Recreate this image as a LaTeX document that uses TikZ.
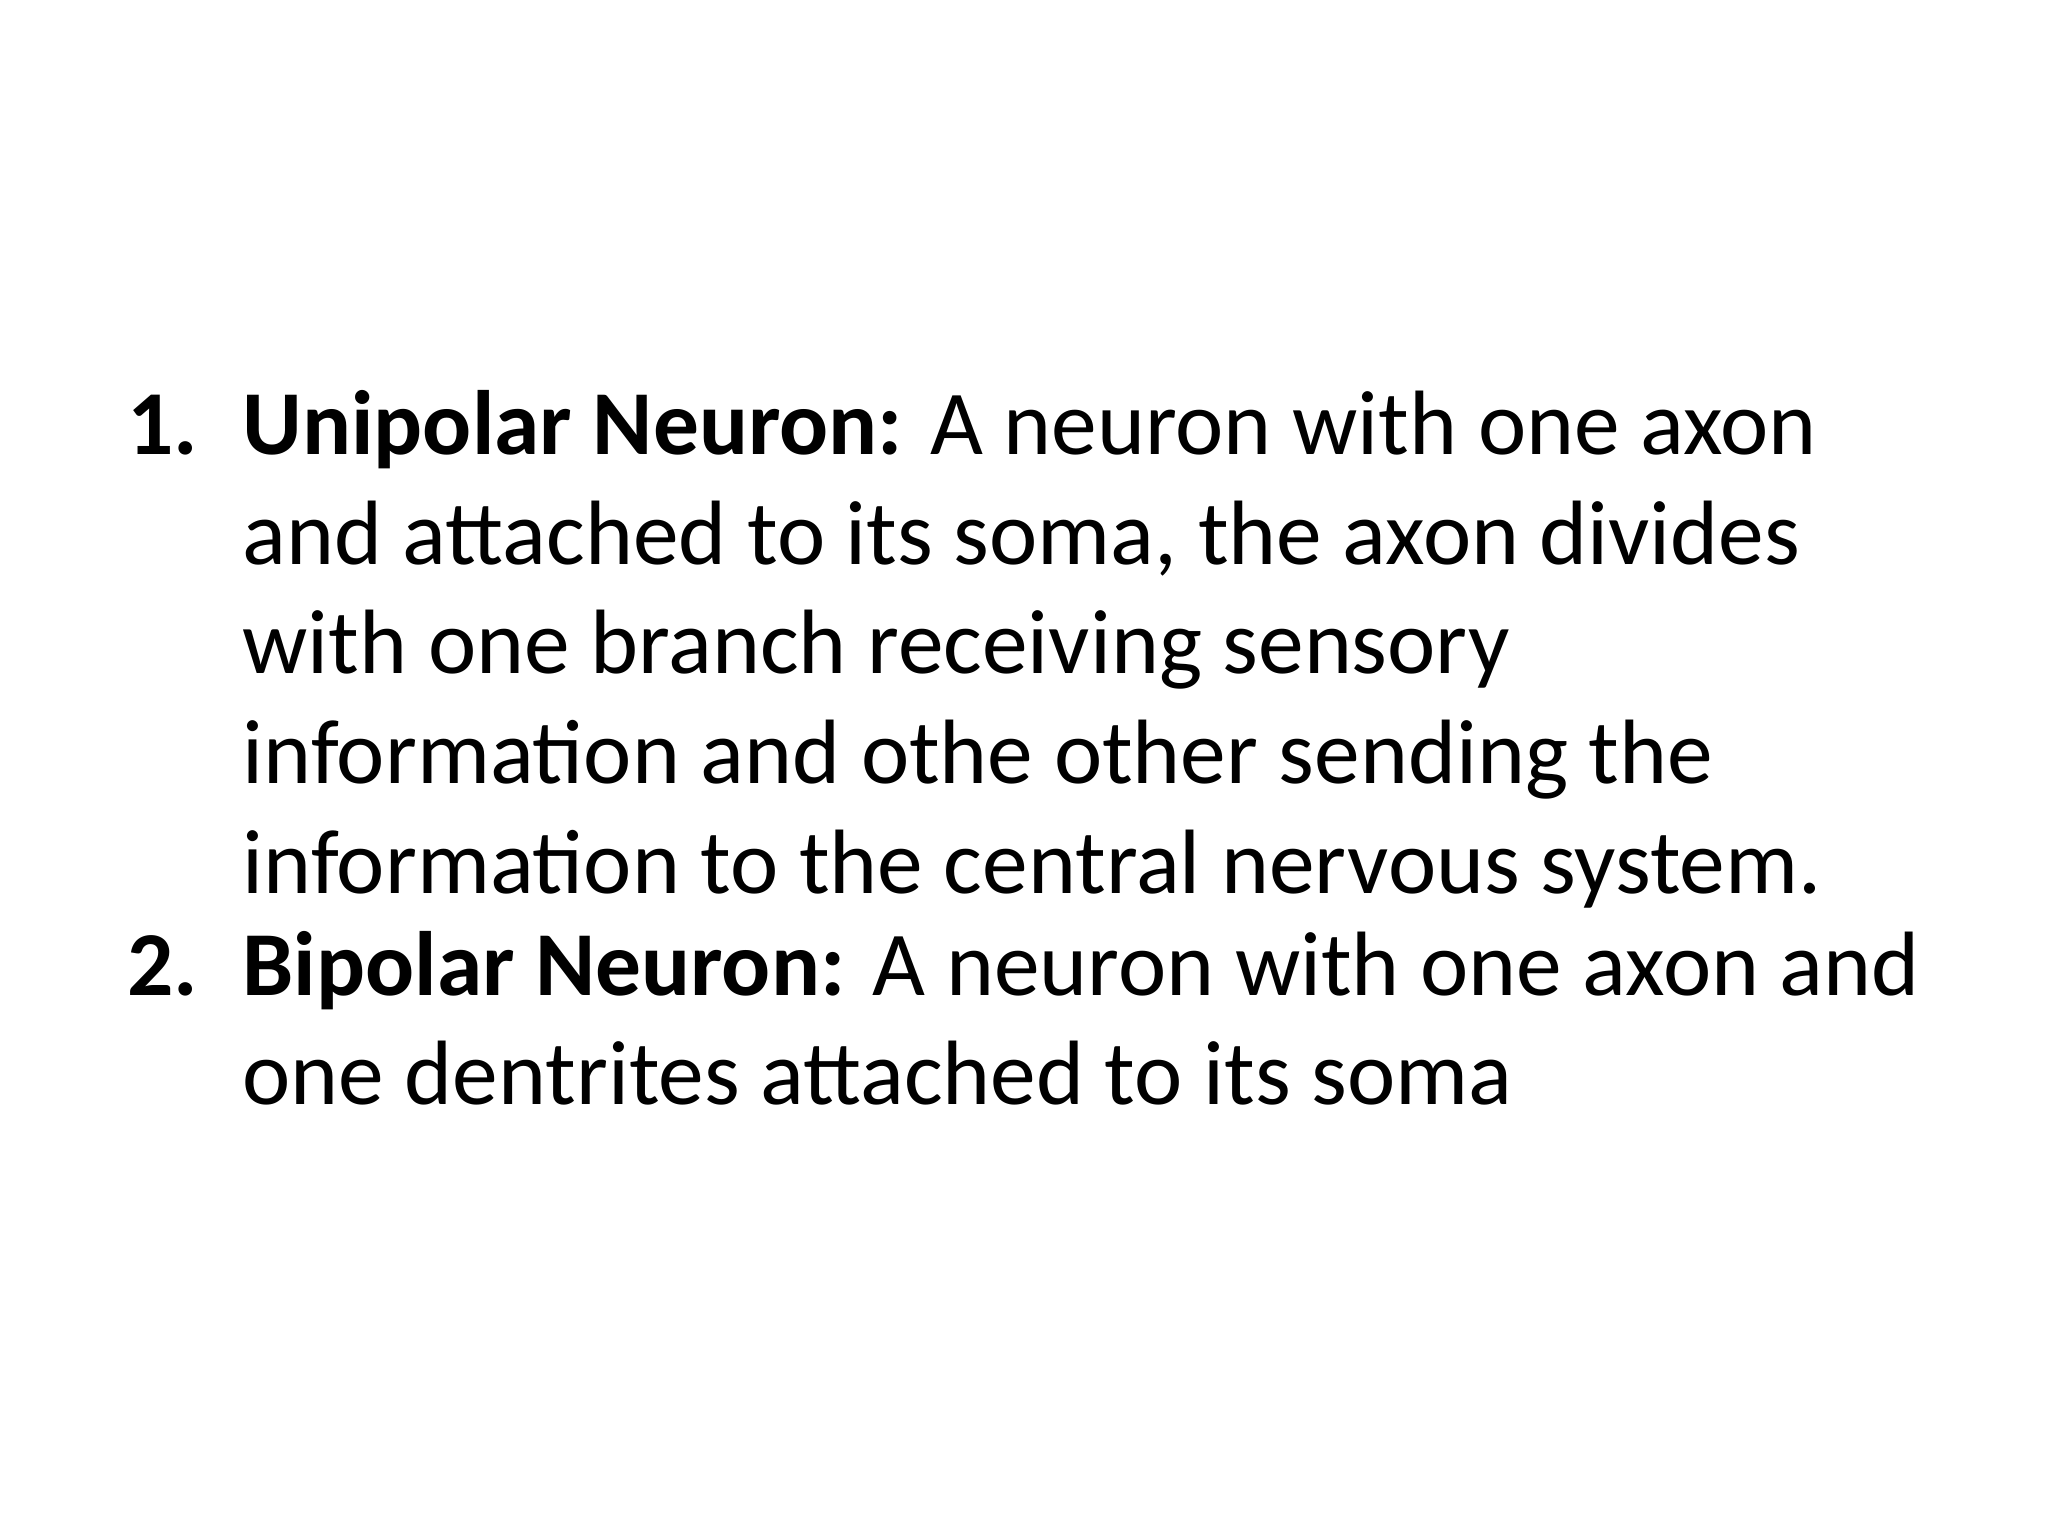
\documentclass[tikz,border=0pt]{standalone}
\usepackage{fontspec}
\setmainfont{Carlito}
\begin{document}
\begin{tikzpicture}[x=0.01cm,y=-0.01cm,
  ln/.style={anchor=base west,inner sep=0pt,font=\fontsize{19.9pt}{24pt}\selectfont}]
\useasboundingbox (0,0) rectangle (1568,1176);
\node[ln] (n1) at (97,348) {\textbf{1.}};
\node[ln] (l1) at (185,348) {\textbf{Unipolar Neuron:} A neuron with one axon};
\node[ln] (l2) at (185,432) {and attached to its soma, the axon divides};
\node[ln] (l3) at (185,516) {with one branch receiving sensory};
\node[ln] (l4) at (185,600) {information and othe other sending the};
\node[ln] (l5) at (185,684) {information to the central nervous system.};
\node[ln] (n2) at (97,762) {\textbf{2.}};
\node[ln] (m1) at (185,762) {\textbf{Bipolar Neuron:} A neuron with one axon and};
\node[ln] (m2) at (185,846) {one dentrites attached to its soma};
\end{tikzpicture}
\end{document}
